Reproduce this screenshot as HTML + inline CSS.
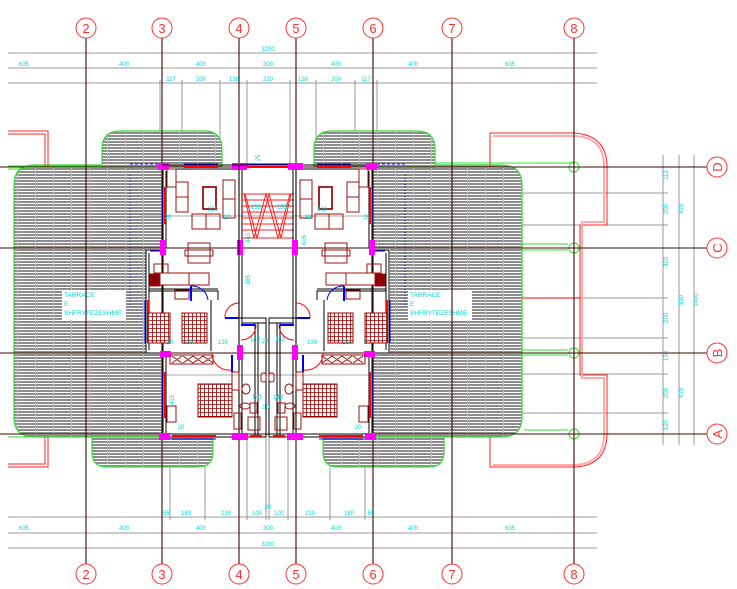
<!DOCTYPE html>
<html><head><meta charset="utf-8"><style>
html,body{margin:0;padding:0;background:#fff;width:737px;height:589px;overflow:hidden}
svg{display:block}
text{font-family:"Liberation Sans",sans-serif}
</style></head><body>
<svg width="737" height="589" viewBox="0 0 737 589" xmlns="http://www.w3.org/2000/svg">
<defs>
<pattern id="h" width="18" height="3" patternUnits="userSpaceOnUse">
<rect width="18" height="3" fill="#fff"/>
<rect y="0" width="18" height="2" fill="#8c8c8c"/>
<rect x="17" width="1" height="3" fill="#bbb"/>
</pattern>
<pattern id="g" width="4" height="4" patternUnits="userSpaceOnUse">
<rect width="4" height="4" fill="#fff"/>
<path d="M0 0H4M0 0V4" stroke="#9b0000" stroke-width="1.6"/>
</pattern>
</defs>

<g stroke="#999" stroke-width="1">
<line x1="8" y1="53" x2="597" y2="53"/>
<line x1="8" y1="68" x2="597" y2="68"/>
<line x1="8" y1="83" x2="597" y2="83"/>
<line x1="8" y1="517" x2="597" y2="517"/>
<line x1="8" y1="533" x2="597" y2="533"/>
<line x1="8" y1="548" x2="597" y2="548"/>
<line x1="663" y1="155" x2="663" y2="445"/>
<line x1="679" y1="155" x2="679" y2="445"/>
<line x1="694" y1="155" x2="694" y2="445"/>
<line x1="160" y1="80" x2="160" y2="167"/><line x1="182" y1="80" x2="182" y2="167"/>
<line x1="220" y1="80" x2="220" y2="167"/><line x1="247" y1="80" x2="247" y2="167"/>
<line x1="290" y1="80" x2="290" y2="167"/><line x1="316" y1="80" x2="316" y2="167"/>
<line x1="355" y1="80" x2="355" y2="167"/><line x1="377" y1="80" x2="377" y2="167"/>
<line x1="170" y1="437" x2="170" y2="520"/><line x1="205" y1="437" x2="205" y2="520"/>
<line x1="247" y1="437" x2="247" y2="520"/><line x1="266" y1="437" x2="266" y2="520"/>
<line x1="269" y1="437" x2="269" y2="520"/><line x1="288" y1="437" x2="288" y2="520"/>
<line x1="330" y1="437" x2="330" y2="520"/><line x1="365" y1="437" x2="365" y2="520"/>
<line x1="500" y1="193" x2="668" y2="193"/><line x1="500" y1="225" x2="668" y2="225"/>
<line x1="500" y1="298" x2="668" y2="298"/><line x1="500" y1="338" x2="668" y2="338"/>
<line x1="500" y1="374" x2="668" y2="374"/><line x1="500" y1="413" x2="668" y2="413"/>
<line x1="574" y1="437" x2="574" y2="552"/>
</g>

<g stroke="#33dd33" stroke-width="1.2" fill="url(#h)">
<path d="M34 165H163V437H34Q14 437 14 417V185Q14 165 34 165Z"/>
<path d="M501 165H373V437H501Q522 437 522 417V185Q522 165 501 165Z"/>
<path d="M102 167V149Q102 131 120 131H204Q222 131 222 149V167Z"/>
<path d="M314 167V149Q314 131 332 131H417Q435 131 435 149V167Z"/>
<path d="M92 437V452Q92 467 107 467H198Q213 467 213 452V437Z"/>
<path d="M323 437V452Q323 467 338 467H429Q444 467 444 452V437Z"/>
</g>
<g stroke="#33dd33" stroke-width="1" fill="none">
<line x1="8" y1="166" x2="102" y2="166"/><line x1="8" y1="169" x2="30" y2="169"/>
<line x1="435" y1="163" x2="574" y2="163"/><line x1="435" y1="167" x2="568" y2="167"/>
<line x1="522" y1="244" x2="568" y2="244"/><line x1="522" y1="250" x2="568" y2="250"/>
<line x1="522" y1="350" x2="568" y2="350"/><line x1="522" y1="355" x2="568" y2="355"/>
<line x1="524" y1="430" x2="568" y2="430"/><line x1="8" y1="437" x2="30" y2="437"/>
<circle cx="574" cy="167" r="5"/><circle cx="574" cy="248" r="5"/>
<circle cx="574" cy="353" r="5"/><circle cx="574" cy="434" r="5"/>
</g>

<g stroke="#ff2020" fill="none" stroke-width="1">
<path d="M8 131H48V167M8 134H45V167"/>
<path d="M8 467H48V437M8 464H45V437"/>
<path d="M490 167V133H574Q606 135 607 165V225H580V375H607V435Q606 466 574 467H490V437"/>
</g>
<path d="M493 465H574Q604 464 604 435V378H582V222H604V166Q604 137 574 136H493" stroke="#ffaaaa" stroke-width="2" fill="none"/>
<path d="M522 298H580" stroke="#f00" fill="none"/>

<rect x="62" y="290" width="64" height="30" fill="#fff"/>
<rect x="408" y="290" width="64" height="30" fill="#fff"/>
<g fill="#00d8d8" font-size="6.5">
<text x="64" y="297">TARRACE</text><text x="64" y="306">E</text><text x="64" y="315">SHFRYTEZESHME</text>
<text x="410" y="297">TARRACE</text><text x="410" y="306">E</text><text x="410" y="315">SHFRYTEZESHME</text>
</g>

<path d="M163 167H373V248H390V353H373V437H163V353H146V248H163Z" fill="#fff"/>
<g stroke="#aaa" stroke-width="1">
<line x1="140" y1="216" x2="400" y2="216"/>
<line x1="140" y1="375" x2="400" y2="375"/>
</g>

<g stroke="#3a0800" stroke-width="1.1">
<line x1="86" y1="38" x2="86" y2="564"/><line x1="162" y1="38" x2="162" y2="564"/>
<line x1="239" y1="38" x2="239" y2="564"/><line x1="296" y1="38" x2="296" y2="564"/>
<line x1="373" y1="38" x2="373" y2="564"/><line x1="452" y1="38" x2="452" y2="564"/>
<line x1="574" y1="38" x2="574" y2="564"/>
</g>
<g stroke="#3a0800" stroke-width="1">
<line x1="0" y1="167" x2="707" y2="167"/><line x1="0" y1="248" x2="707" y2="248"/>
<line x1="0" y1="353" x2="707" y2="353"/><line x1="0" y1="434" x2="707" y2="434"/>
</g>

<g id="u">
<g stroke="#000" stroke-width="1" fill="none">
<path d="M163 165V437M166 171V248M166 356V434M146 250V353M149 253V350M163 250H146M163 353H146"/>
<path d="M239 165V437M242 169V325M296 165V325"/>
<path d="M163 165H373M163 169H239M163 434H239M163 437H266"/>
<path d="M149 291H218V300M149 289H218M211 300V351"/>
<path d="M235 318H266V323H242M255 323V437M258 323V437M266 323V437"/>
<path d="M242 346V437M244 353H239"/>
</g>
<g stroke="#ff0000" stroke-width="2">
<line x1="184" y1="167" x2="218" y2="167"/><line x1="252" y1="167" x2="288" y2="167"/>
<line x1="165" y1="187" x2="165" y2="224"/><line x1="148" y1="300" x2="148" y2="343"/>
<line x1="165" y1="372" x2="165" y2="418"/><line x1="172" y1="436" x2="216" y2="436"/>
<line x1="250" y1="436" x2="262" y2="436"/>
</g>
<g stroke="#0000ff" stroke-width="1">
<line x1="184" y1="164" x2="218" y2="164"/><line x1="252" y1="164" x2="288" y2="164"/>
<line x1="162" y1="187" x2="162" y2="224"/><line x1="145" y1="300" x2="145" y2="343"/>
<line x1="162" y1="372" x2="162" y2="418"/><line x1="172" y1="439" x2="216" y2="439"/>
<line x1="150" y1="251" x2="163" y2="251"/>
<line x1="130" y1="164" x2="160" y2="164" stroke-dasharray="3,2"/>
<line x1="130" y1="175" x2="130" y2="305" stroke-dasharray="1,2"/>
</g>
<g fill="#ff00ff">
<rect x="158" y="163" width="11" height="7"/><rect x="232" y="163" width="15" height="7"/>
<rect x="160" y="240" width="6" height="15"/><rect x="237" y="240" width="6" height="15"/>
<rect x="160" y="351" width="11" height="6"/><rect x="237" y="345" width="6" height="15"/>
<rect x="159" y="433" width="11" height="7"/><rect x="232" y="433" width="16" height="7"/>
</g>
<g stroke="#ff2020" stroke-width="1" fill="none">
<path d="M243 194H294M243 200H294M243 206H294M243 212H294M243 218H294M243 224H294M243 230H294M243 238H294"/>
<path d="M244 194L254 238L266 194L278 238L290 194"/>
</g>
<g stroke="#9b1010" stroke-width="1" fill="none">
<rect x="176" y="182" width="12" height="30"/><rect x="176" y="182" width="12" height="15"/>
<rect x="203" y="187" width="13" height="22" stroke-width="1.8"/>
<rect x="223" y="180" width="12" height="38"/><rect x="223" y="180" width="12" height="19"/>
<rect x="192" y="214" width="28" height="15"/><rect x="192" y="214" width="14" height="15"/>
<rect x="188" y="243" width="22" height="20"/><rect x="185" y="250" width="28" height="6"/>
<rect x="167" y="169" width="9" height="18" fill="#fff"/>
<rect x="154" y="264" width="14" height="9"/>
<rect x="159" y="273" width="30" height="12" fill="#fff"/>
<rect x="150" y="274" width="10" height="12" fill="#8b0000"/>
<rect x="189" y="273" width="20" height="12"/>
<rect x="175" y="290" width="14" height="9"/>
<rect x="170" y="355" width="43" height="9"/>
<path d="M172 356L182 363M182 356L172 363M183 356L193 363M193 356L183 363M193 356L203 363M203 356L193 363M203 356L213 363M213 356L203 363"/>
<rect x="167" y="406" width="9" height="16" fill="#fff"/>
<rect x="232" y="372" width="7" height="18"/><rect x="234" y="413" width="7" height="16"/>
<rect x="250" y="403" width="7" height="10"/>
<ellipse cx="246" cy="389" rx="4" ry="5"/><ellipse cx="245" cy="406" rx="5" ry="3"/>
<rect x="248" y="417" width="12" height="13"/>
<rect x="261" y="373" width="5" height="9" rx="2"/>
</g>
<rect x="148" y="313" width="22" height="30" fill="url(#g)" stroke="#9b0000"/>
<rect x="182" y="313" width="25" height="30" fill="url(#g)" stroke="#9b0000"/>
<rect x="198" y="384" width="34" height="33" fill="url(#g)" stroke="#9b0000"/>
<g fill="none" stroke-width="1">
<path d="M208 300A16 16 0 0 0 191 286" stroke="#0000ff"/><line x1="191" y1="286" x2="191" y2="301" stroke="#0000ff" stroke-width="2"/>
<path d="M225 318A14 14 0 0 1 239 303" stroke="#ff0000"/><line x1="225" y1="318" x2="238" y2="318" stroke="#0000ff" stroke-width="2"/>
<path d="M212 353A17 17 0 0 0 231 370" stroke="#ff0000"/><line x1="232" y1="355" x2="232" y2="372" stroke="#0000ff" stroke-width="2"/>
<path d="M241 340A15 15 0 0 0 256 325" stroke="#ff0000"/><line x1="241" y1="325" x2="255" y2="325" stroke="#0000ff" stroke-width="2"/>
</g>
</g>
<use href="#u" transform="translate(535,0) scale(-1,1)"/>

<g fill="#00d8d8" font-size="6" text-anchor="middle">
<text x="268" y="51">3200</text>
<text x="24" y="66">635</text><text x="124" y="66">400</text><text x="201" y="66">400</text>
<text x="268" y="66">300</text><text x="336" y="66">400</text><text x="413" y="66">400</text><text x="510" y="66">635</text>
<text x="171" y="81">117</text><text x="201" y="81">200</text><text x="234" y="81">138</text>
<text x="268" y="81">220</text><text x="303" y="81">138</text><text x="336" y="81">200</text><text x="366" y="81">117</text>
<text x="166" y="515">55</text><text x="186" y="515">180</text><text x="226" y="515">220</text>
<text x="257" y="515">100</text><text x="268" y="509">20</text><text x="279" y="515">100</text>
<text x="310" y="515">220</text><text x="349" y="515">180</text><text x="371" y="515">55</text>
<text x="24" y="530">635</text><text x="124" y="530">400</text><text x="201" y="530">400</text>
<text x="268" y="530">300</text><text x="336" y="530">400</text><text x="413" y="530">400</text><text x="510" y="530">635</text>
<text x="268" y="546">3200</text>
<text x="213" y="211">310</text><text x="322" y="211">310</text>
<text x="168" y="219">20</text><text x="367" y="219">20</text>
<text x="227" y="219">20</text><text x="308" y="219">20</text>
<text x="256" y="209">135</text><text x="282" y="209">135</text>
<text x="170" y="344">10</text><text x="188" y="344">229</text><text x="223" y="344">139</text>
<text x="312" y="344">139</text><text x="347" y="344">229</text><text x="367" y="344">20</text>
<text x="181" y="429">20</text><text x="358" y="429">20</text>
<text x="257" y="399">143</text><text x="278" y="399">143</text><text x="266" y="409">20</text>
<text x="265" y="343">20</text><text x="255" y="341">143</text><text x="280" y="341">143</text>
</g>
<g fill="#00d8d8" font-size="6" text-anchor="middle">
<text transform="translate(668,175) rotate(-90)">112</text>
<text transform="translate(668,209) rotate(-90)">200</text>
<text transform="translate(683,209) rotate(-90)">420</text>
<text transform="translate(668,262) rotate(-90)">320</text>
<text transform="translate(683,300) rotate(-90)">590</text>
<text transform="translate(698,300) rotate(-90)">1400</text>
<text transform="translate(668,318) rotate(-90)">200</text>
<text transform="translate(668,356) rotate(-90)">150</text>
<text transform="translate(668,393) rotate(-90)">200</text>
<text transform="translate(683,393) rotate(-90)">420</text>
<text transform="translate(668,425) rotate(-90)">120</text>
<text transform="translate(260,158) rotate(-90)">25</text>
<text transform="translate(250,238) rotate(-90)">340</text>
<text transform="translate(250,280) rotate(-90)">385</text>
<text transform="translate(306,240) rotate(-90)">605</text>
<text transform="translate(174,400) rotate(-90)">415</text>
</g>

<g stroke="#ff3030" stroke-width="1" fill="#fff">
<circle cx="86" cy="28" r="10"/><circle cx="162" cy="28" r="10"/><circle cx="239" cy="28" r="10"/>
<circle cx="296" cy="28" r="10"/><circle cx="373" cy="28" r="10"/><circle cx="452" cy="28" r="10"/><circle cx="574" cy="28" r="10"/>
<circle cx="86" cy="574" r="10"/><circle cx="162" cy="574" r="10"/><circle cx="239" cy="574" r="10"/>
<circle cx="296" cy="574" r="10"/><circle cx="373" cy="574" r="10"/><circle cx="452" cy="574" r="10"/><circle cx="574" cy="574" r="10"/>
<circle cx="717" cy="167" r="10"/><circle cx="717" cy="248" r="10"/><circle cx="717" cy="353" r="10"/><circle cx="717" cy="434" r="10"/>
</g>
<g fill="#ff3030" font-size="13" text-anchor="middle">
<text x="86" y="33">2</text><text x="162" y="33">3</text><text x="239" y="33">4</text><text x="296" y="33">5</text>
<text x="373" y="33">6</text><text x="452" y="33">7</text><text x="574" y="33">8</text>
<text x="86" y="579">2</text><text x="162" y="579">3</text><text x="239" y="579">4</text><text x="296" y="579">5</text>
<text x="373" y="579">6</text><text x="452" y="579">7</text><text x="574" y="579">8</text>
<text transform="translate(722,167) rotate(-90)">D</text>
<text transform="translate(722,248) rotate(-90)">C</text>
<text transform="translate(722,353) rotate(-90)">B</text>
<text transform="translate(722,434) rotate(-90)">A</text>
</g>
</svg>
</body></html>
